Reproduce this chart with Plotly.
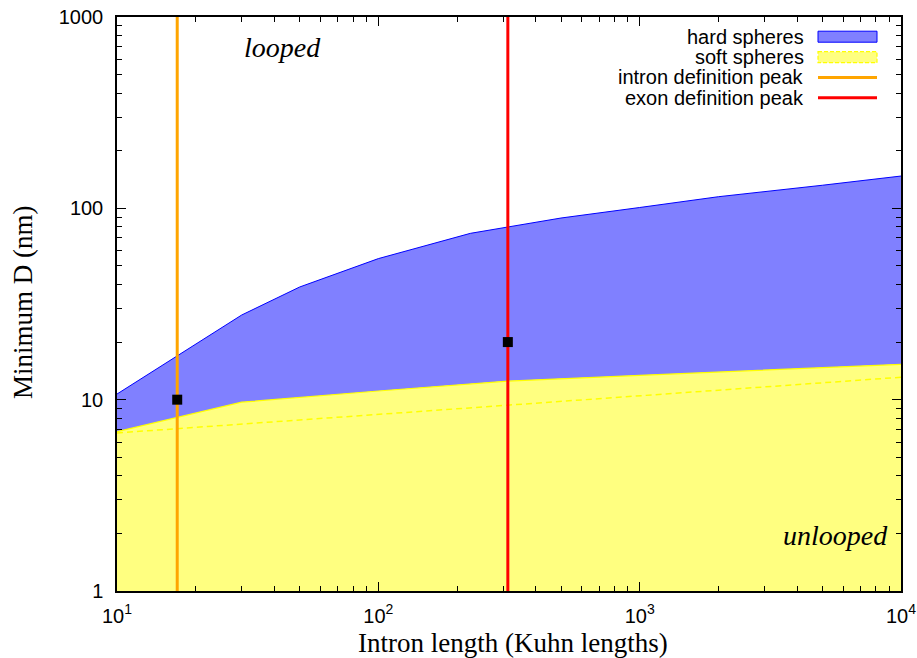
import plotly.graph_objects as go

# ---------------- data ----------------
hard_x = [10, 30, 50, 100, 225, 313, 500, 1000, 2000, 5000, 10000]
hard_y = [10.7, 27.7, 38.8, 54.6, 74.0, 80.0, 89.0, 101.0, 115.0, 132.0, 147.5]

soft_x = [10, 30, 100, 313, 1000, 3000, 10000]
soft_y = [6.8, 9.7, 11.1, 12.5, 13.4, 14.3, 15.3]

soft_dash_x = [10, 100, 1000, 10000]
soft_dash_y = [6.7, 8.4, 10.5, 13.1]

intron_peak = 17
exon_peak = 313
peak_y = [1, 1000]

point_x = [17, 313]
point_y = [10, 20]

y_floor = 1

x_tickvals = [10, 100, 1000, 10000]
x_ticktext = ["10<sup>1</sup>", "10<sup>2</sup>", "10<sup>3</sup>", "10<sup>4</sup>"]
y_tickvals = [1, 10, 100, 1000]
y_ticktext = ["1", "10", "100", "1000"]

legend_labels = ["hard spheres", "soft spheres", "intron definition peak", "exon definition peak"]

# ---------------- style ----------------
BLUE_FILL = "#8080ff"
BLUE_EDGE = "#0000ff"
YEL_FILL = "#ffff80"
YEL_EDGE = "#ffff00"
ORANGE = "#ffa500"
RED = "#ff0000"
SANS = "Liberation Sans, Arial, sans-serif"
SERIF = "Liberation Serif, Times New Roman, serif"

W, H = 917, 658
L, R, T, B = 117, 901, 17, 591


def px_x(px):
    return (px - L) / (R - L)


def px_y(py):
    return (B - py) / (B - T)


minor_x = [m * 10 ** e for e in range(1, 4) for m in range(2, 10)]
minor_y = [m * 10 ** e for e in range(0, 3) for m in range(2, 10)]

fig = go.Figure()

# hard spheres: region between hard curve and soft curve (filled polygon)
fig.add_trace(go.Scatter(
    x=hard_x + soft_x[::-1], y=hard_y + soft_y[::-1],
    fill="toself", fillcolor=BLUE_FILL, line=dict(width=0),
    mode="lines", hoverinfo="skip", showlegend=False))
fig.add_trace(go.Scatter(
    x=hard_x, y=hard_y, mode="lines",
    line=dict(color=BLUE_EDGE, width=1), showlegend=False))

# soft spheres: region from floor to soft curve
fig.add_trace(go.Scatter(
    x=soft_x + [soft_x[-1], soft_x[0]], y=soft_y + [y_floor, y_floor],
    fill="toself", fillcolor=YEL_FILL, line=dict(width=0),
    mode="lines", hoverinfo="skip", showlegend=False))
fig.add_trace(go.Scatter(
    x=soft_x, y=soft_y, mode="lines",
    line=dict(color=YEL_EDGE, width=1.2), showlegend=False))
fig.add_trace(go.Scatter(
    x=soft_dash_x, y=soft_dash_y, mode="lines",
    line=dict(color=YEL_EDGE, width=1.5, dash="6px,4px"), showlegend=False))

# peaks
fig.add_trace(go.Scatter(
    x=[intron_peak, intron_peak], y=peak_y, mode="lines",
    line=dict(color=ORANGE, width=3), showlegend=False))
fig.add_trace(go.Scatter(
    x=[exon_peak, exon_peak], y=peak_y, mode="lines",
    line=dict(color=RED, width=3), showlegend=False))

# points
fig.add_trace(go.Scatter(
    x=point_x, y=point_y, mode="markers",
    marker=dict(symbol="square", size=10, color="black"), showlegend=False))

axis_common = dict(
    type="log", showgrid=False, zeroline=False, automargin=False,
    showline=True, linecolor="black", linewidth=1.5, mirror="allticks",
    ticks="inside", ticklen=9, tickwidth=1, tickcolor="black",
    tickfont=dict(family=SANS, size=20, color="black"),
)

fig.update_xaxes(
    **axis_common, range=[1, 4], tickmode="array",
    tickvals=x_tickvals, ticktext=x_ticktext, ticklabelstandoff=6,
    minor=dict(ticks="inside", ticklen=5, tickwidth=1, tickcolor="black",
               tickmode="array", tickvals=minor_x),
)
fig.update_yaxes(
    **axis_common, range=[0, 3], tickmode="array",
    tickvals=y_tickvals, ticktext=y_ticktext, ticklabelstandoff=8,
    minor=dict(ticks="inside", ticklen=5, tickwidth=1, tickcolor="black",
               tickmode="array", tickvals=minor_y),
)

# custom legend (text right-aligned, swatch on the right)
shapes = []
annotations = []
rows = [36.7, 57.2, 77.5, 97.7]
sw_x0, sw_x1 = 818, 877
text_right = 806
for label, ry in zip(legend_labels, rows):
    annotations.append(dict(
        x=px_x(text_right), y=px_y(ry), xref="paper", yref="paper",
        text=label, showarrow=False, xanchor="right", yanchor="middle",
        font=dict(family=SANS, size=20, color="black")))
shapes.append(dict(type="rect", xref="paper", yref="paper",
                   x0=px_x(sw_x0), x1=px_x(sw_x1), y0=px_y(rows[0] - 5.5), y1=px_y(rows[0] + 5.5),
                   fillcolor=BLUE_FILL, line=dict(color=BLUE_EDGE, width=1)))
shapes.append(dict(type="rect", xref="paper", yref="paper",
                   x0=px_x(sw_x0), x1=px_x(sw_x1), y0=px_y(rows[1] - 5.5), y1=px_y(rows[1] + 5.5),
                   fillcolor=YEL_FILL, line=dict(color=YEL_EDGE, width=1.2, dash="4px,2px")))
shapes.append(dict(type="line", xref="paper", yref="paper",
                   x0=px_x(sw_x0), x1=px_x(sw_x1), y0=px_y(rows[2]), y1=px_y(rows[2]),
                   line=dict(color=ORANGE, width=3)))
shapes.append(dict(type="line", xref="paper", yref="paper",
                   x0=px_x(sw_x0), x1=px_x(sw_x1), y0=px_y(rows[3]), y1=px_y(rows[3]),
                   line=dict(color=RED, width=3)))

annotations.append(dict(
    x=px_x(282), y=px_y(47), xref="paper", yref="paper", text="<i>looped</i>",
    showarrow=False, xanchor="center", yanchor="middle",
    font=dict(family=SERIF, size=28, color="black")))
annotations.append(dict(
    x=px_x(890), y=px_y(535), xref="paper", yref="paper", text="<i>unlooped</i>",
    showarrow=False, xanchor="right", yanchor="middle",
    font=dict(family=SERIF, size=28, color="black")))

# axis titles
annotations.append(dict(
    x=px_x(513), y=px_y(643), xref="paper", yref="paper",
    text="Intron length (Kuhn lengths)", showarrow=False,
    xanchor="center", yanchor="middle",
    font=dict(family=SERIF, size=27, color="black")))
annotations.append(dict(
    x=px_x(23), y=px_y(302), xref="paper", yref="paper",
    text="Minimum D (nm)", showarrow=False, textangle=-90,
    xanchor="center", yanchor="middle",
    font=dict(family=SERIF, size=27, color="black")))

fig.update_layout(
    width=W, height=H,
    margin=dict(l=L, r=W - R, t=T, b=H - B, autoexpand=False),
    plot_bgcolor="white", paper_bgcolor="white",
    showlegend=False, shapes=shapes, annotations=annotations,
)

fig.write_html("out.html")
